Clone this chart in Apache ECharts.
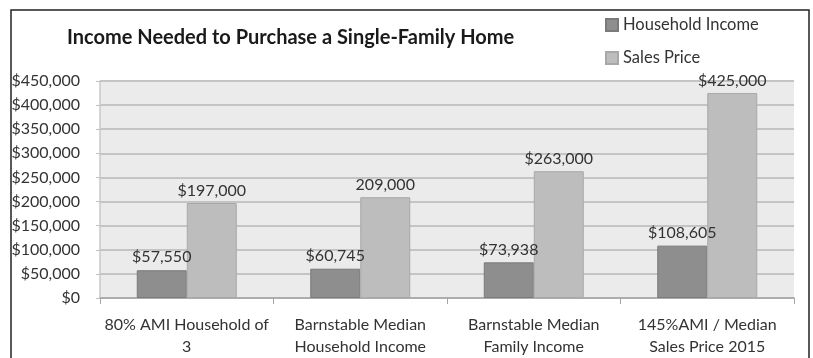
<!DOCTYPE html>
<html>
<head>
<meta charset="utf-8">
<script src="https://cdn.jsdelivr.net/npm/echarts@6/dist/echarts.min.js"></script>
<style>
  html, body { margin: 0; padding: 0; background: #fff; }
  #chart { width: 813px; height: 358px; }
</style>
</head>
<body>
<div id="chart"></div>
<script>
var categories = ['80% AMI Household of\n3', 'Barnstable Median\nHousehold Income', 'Barnstable Median\nFamily Income', '145%AMI / Median\nSales Price 2015'];
var householdIncome = [57550, 60745, 73938, 108605];
var salesPrice = [197000, 209000, 263000, 425000];
// labels as printed on the original (one of them lacks the $)
var incomeLabels = ['$57,550', '$60,745', '$73,938', '$108,605'];
var priceLabels = ['$197,000', '209,000', '$263,000', '$425,000'];

var font = 'Lato';
var myChart = echarts.init(document.getElementById('chart'));

var option = {
  backgroundColor: '#fff',
  animation: false,
  textStyle: { fontFamily: font },
  graphic: [{
    type: 'rect',
    shape: { x: 11, y: 10, width: 798, height: 360 },
    style: { fill: 'none', stroke: '#222', lineWidth: 1.5 },
    silent: true
  }],
  title: {
    text: 'Income Needed to Purchase a Single-Family Home',
    left: 62,
    top: 23,
    textStyle: { fontFamily: font, fontSize: 20, fontWeight: 'bold', color: '#1a1a1a' }
  },
  legend: {
    orient: 'vertical',
    left: 605,
    top: 16,
    padding: 0,
    itemWidth: 12,
    itemHeight: 12,
    itemGap: 15,
    icon: 'rect',
    data: ['Household Income', 'Sales Price'],
    textStyle: { fontFamily: font, fontSize: 16.5, color: '#333', lineHeight: 18 }
  },
  grid: {
    left: 100, right: 19, top: 81, bottom: 60,
    show: true, backgroundColor: '#ebebeb', borderWidth: 0
  },
  xAxis: {
    type: 'category',
    data: categories,
    axisLine: { lineStyle: { color: '#a5a5a5', width: 1.5 } },
    axisTick: { show: true, length: 6, lineStyle: { color: '#a5a5a5' } },
    axisLabel: { interval: 0, fontFamily: font, fontSize: 16, color: '#333', lineHeight: 22, margin: 16 }
  },
  yAxis: {
    type: 'value',
    min: 0,
    max: 450000,
    interval: 50000,
    axisLine: { show: true, lineStyle: { color: '#c8c8c8', width: 1.5 } },
    axisTick: { show: true, length: 4, lineStyle: { color: '#c0c0c0' } },
    splitLine: { lineStyle: { color: '#c4c4c4', width: 2 } },
    axisLabel: {
      fontFamily: font, fontSize: 16, color: '#333', margin: 20,
      formatter: function (v) { return '$' + v.toLocaleString('en-US'); }
    }
  },
  series: [
    {
      name: 'Household Income',
      type: 'bar',
      data: householdIncome,
      barWidth: 50,
      barGap: '0%',
      itemStyle: { color: '#8e8e8e', borderColor: '#7a7a7a', borderWidth: 1 },
      label: {
        show: true, position: 'top', distance: 5,
        fontFamily: font, fontSize: 16, color: '#333',
        formatter: function (p) { return incomeLabels[p.dataIndex]; }
      }
    },
    {
      name: 'Sales Price',
      type: 'bar',
      data: salesPrice,
      barWidth: 50,
      itemStyle: { color: '#bdbdbd', borderColor: '#a8a8a8', borderWidth: 1 },
      label: {
        show: true, position: 'top', distance: 4,
        fontFamily: font, fontSize: 16, color: '#333',
        formatter: function (p) { return priceLabels[p.dataIndex]; }
      }
    }
  ]
};

myChart.setOption(option);
</script>
</body>
</html>
